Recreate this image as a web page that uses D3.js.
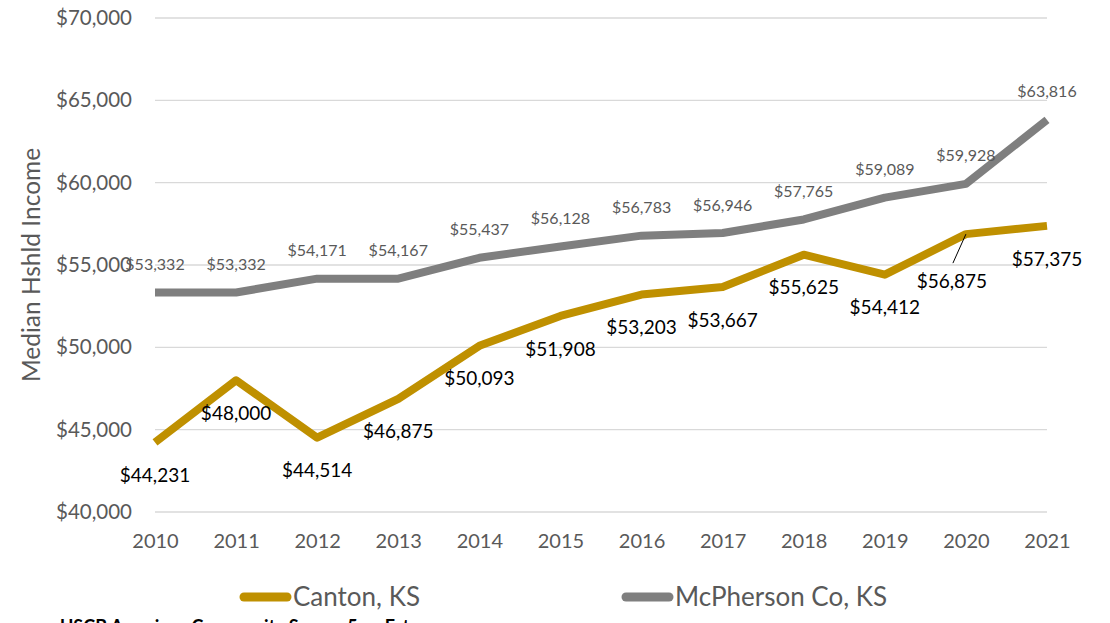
<!DOCTYPE html>
<html>
<head>
	<title>Median Household Income</title>
	<meta charset="utf-8">
	<script src="https://d3js.org/d3.v7.min.js"></script>
	<style>
		body { margin: 0; background: #fff; }
		text { font-family: Lato, "Open Sans", sans-serif; }
	</style>
</head>
<body>
	<script type="text/javascript">
		var years = [2010, 2011, 2012, 2013, 2014, 2015, 2016, 2017, 2018, 2019, 2020, 2021]
		var canton = [44231, 48000, 44514, 46875, 50093, 51908, 53203, 53667, 55625, 54412, 56875, 57375]
		var mcpherson = [53332, 53332, 54171, 54167, 55437, 56128, 56783, 56946, 57765, 59089, 59928, 63816]
		var yTicks = [40000, 45000, 50000, 55000, 60000, 65000, 70000]
		var seriesNames = ["Canton, KS", "McPherson Co, KS"]

		var width = 1110
		var height = 623
		var gold = "#bf9000"
		var grey = "#7f7f7f"
		var fmt = d3.format("$,")

		var svg = d3.select("body").append("svg")
		  .attr("width", width)
		  .attr("height", height)

		var x = d3.scalePoint().domain(years).range([155, 1047])
		var y = d3.scaleLinear().domain([40000, 70000]).range([512, 18])

		// gridlines
		svg.append("g")
		  .selectAll("line")
		  .data(yTicks)
		  .enter()
		  .append("line")
			.attr("x1", 155)
			.attr("x2", 1047)
			.attr("y1", d => y(d))
			.attr("y2", d => y(d))
			.attr("stroke", "#d9d9d9")
			.attr("stroke-width", 1.3)

		// y axis labels
		var yAxis = svg.append("g")
		  .attr("transform", "translate(140,0)")
		  .call(d3.axisLeft(y).tickValues(yTicks).tickFormat(fmt).tickSize(0).tickPadding(8))
		yAxis.select(".domain").remove()
		yAxis.selectAll("text")
		  .attr("fill", "#595959")
		  .style("font-size", "20.5px")
		  .style("font-family", "Lato, 'Open Sans', sans-serif")

		// x axis labels
		var xAxis = svg.append("g")
		  .attr("transform", "translate(0,512)")
		  .call(d3.axisBottom(x).tickSize(0).tickPadding(22))
		xAxis.select(".domain").remove()
		xAxis.selectAll("text")
		  .attr("fill", "#595959")
		  .style("font-size", "20px")
		  .style("font-family", "Lato, 'Open Sans', sans-serif")

		// axis title
		svg.append("text")
		  .attr("transform", "translate(40,265) rotate(-90)")
		  .attr("text-anchor", "middle")
		  .attr("fill", "#595959")
		  .style("font-size", "24.5px")
		  .text("Median Hshld Income")

		var line = d3.line()
		  .x((d, i) => x(years[i]))
		  .y(d => y(d))

		svg.append("path")
		  .datum(mcpherson)
		  .attr("d", line)
		  .attr("fill", "none")
		  .attr("stroke", grey)
		  .attr("stroke-width", 8)
		  .attr("stroke-linejoin", "round")

		svg.append("path")
		  .datum(canton)
		  .attr("d", line)
		  .attr("fill", "none")
		  .attr("stroke", gold)
		  .attr("stroke-width", 8)
		  .attr("stroke-linejoin", "round")

		// McPherson labels above
		svg.append("g")
		  .selectAll("text")
		  .data(mcpherson)
		  .enter()
		  .append("text")
			.attr("x", (d, i) => x(years[i]))
			.attr("y", d => y(d) - 28)
			.attr("dy", "0.35em")
			.attr("text-anchor", "middle")
			.attr("fill", "#595959")
			.style("font-size", "16px")
			.text(d => fmt(d))

		// Canton labels below (2020 label was dragged off with a leader line)
		function nudgeX(i) { return years[i] == 2020 ? -14 : 0 }
		function nudgeY(i) { return years[i] == 2020 ? 47 : 33 }

		svg.append("line")
		  .attr("x1", x(2020) - 13)
		  .attr("y1", y(canton[years.indexOf(2020)]) + 29)
		  .attr("x2", x(2020))
		  .attr("y2", y(canton[years.indexOf(2020)]))
		  .attr("stroke", "#000")
		  .attr("stroke-width", 1)

		svg.append("g")
		  .selectAll("text")
		  .data(canton)
		  .enter()
		  .append("text")
			.attr("x", (d, i) => x(years[i]) + nudgeX(i))
			.attr("y", (d, i) => y(d) + nudgeY(i))
			.attr("dy", "0.35em")
			.attr("text-anchor", "middle")
			.attr("fill", "#000")
			.style("font-size", "19px")
			.text(d => fmt(d))

		// legend
		var legend = svg.append("g")
		  .selectAll("g")
		  .data(seriesNames)
		  .enter()
		  .append("g")
			.attr("transform", (d, i) => "translate(" + [244, 626][i] + ",597)")
		legend.append("line")
		  .attr("x1", 0)
		  .attr("x2", 43)
		  .attr("stroke", (d, i) => [gold, grey][i])
		  .attr("stroke-width", 9)
		  .attr("stroke-linecap", "round")
		legend.append("text")
		  .attr("x", 49)
		  .attr("dy", "0.35em")
		  .attr("fill", "#595959")
		  .style("font-size", "26px")
		  .text(d => d)

		// source note, cut off by the bottom edge
		svg.append("text")
		  .attr("x", 60)
		  .attr("y", 633)
		  .attr("fill", "#000")
		  .style("font-size", "18px")
		  .style("font-weight", "bold")
		  .text("USCB American Community Survey 5-yr Est.")
	</script>
</body>
</html>
